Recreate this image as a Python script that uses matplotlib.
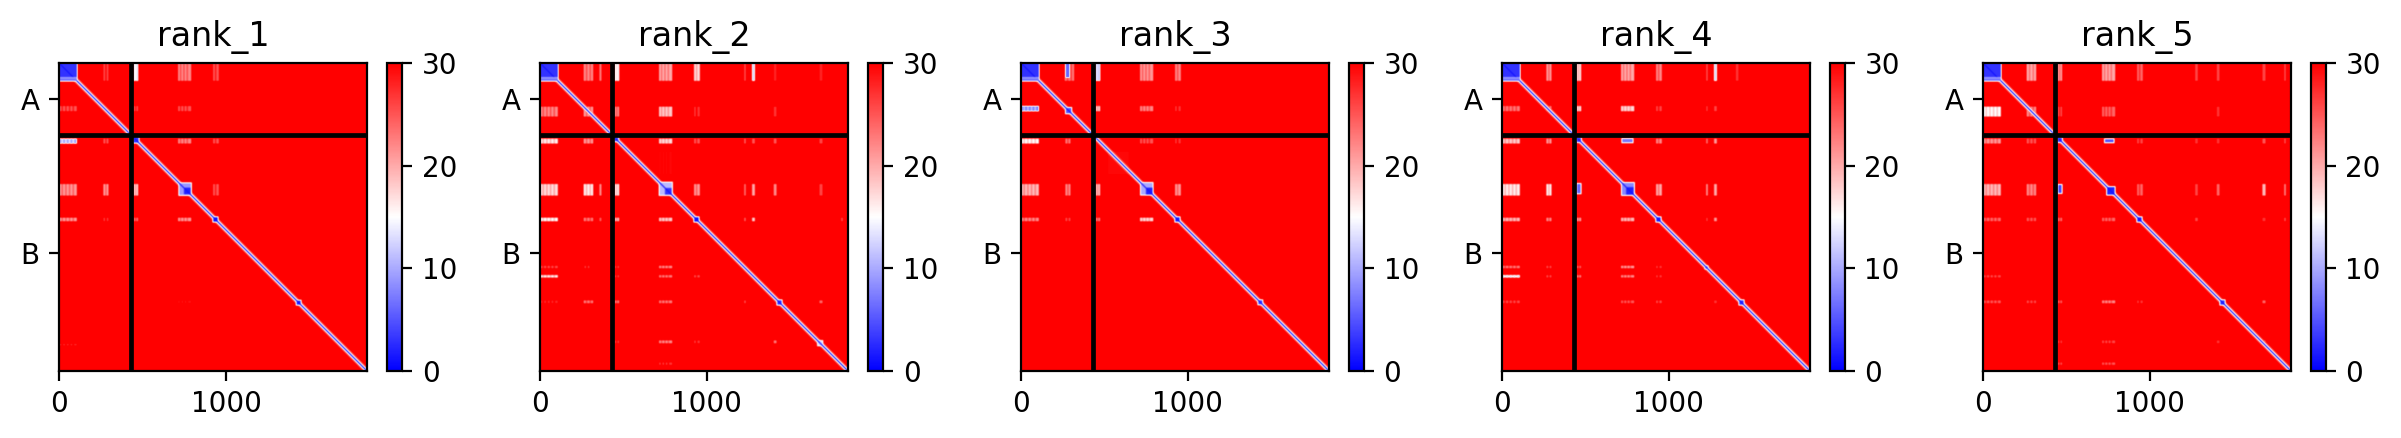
import numpy as np
import matplotlib
matplotlib.use("Agg")
import matplotlib.pyplot as plt

# residue counts
chain_lengths = [430, 1418]
chain_names = ["A", "B"]
rank_names = ["rank_1", "rank_2", "rank_3", "rank_4", "rank_5"]

# residue stripes of the recurring streaks
bands = {
    "n": [(2, 16), (24, 38), (46, 60), (68, 82), (90, 108)],
    "nr": [(0, 108)],
    "g2": [(266, 278), (286, 298)],
    "g2w": [(262, 276), (284, 298), (306, 320)],
    "g2b": [(356, 370)],
    "g2r": [(258, 290)],
    "g2x": [(262, 322)],
    "g3": [(448, 458), (464, 476)],
    "g3r": [(454, 484)],
    "g4": [(714, 726), (734, 746), (754, 766), (774, 794)],
    "g4r": [(726, 796)],
    "g5": [(924, 936), (944, 960)],
    "g5r": [(928, 950)],
    "c1": [(1224, 1236)],
    "c2": [(1272, 1290)],
    "r1": [(1216, 1232)],
    "r2": [(1272, 1288)],
    "r3": [(1424, 1442)],
    "c3": [(1402, 1420)],
    "c4": [(1676, 1696)],
    "r4": [(1664, 1682)],
    "c5": [(1806, 1818)],
    "r5": [(1796, 1812)],
    "rl": [(1684, 1696)],
    "f1": [(530, 670)],
    "f2": [(520, 650)],
}

# (row band, column band, PAE)
rank_1_patches = [
    ("nr", "g2", 25), ("nr", "g3", 12), ("nr", "g4", 21), ("nr", "g5", 24),
    ("g2r", "n", 24), ("g2r", "g3", 25), ("g2r", "g4", 24),
    ("g3r", "n", 9), ("g3r", "g2", 24), ("g3r", "g4", 21), ("g3r", "g5", 24),
    ("g4r", "n", 20), ("g4r", "g2", 20), ("g4r", "g3", 17), ("g4r", "g5", 24),
    ("g5r", "n", 20), ("g5r", "g2", 26), ("g5r", "g3", 23), ("g5r", "g4", 20),
    ("r3", "g4", 28), ("rl", "n", 27),
]
rank_2_patches = [
    ("nr", "g2w", 21), ("nr", "g2b", 22), ("nr", "g3", 13), ("nr", "g4", 19),
    ("nr", "g5", 16), ("nr", "c1", 25), ("nr", "c2", 12), ("nr", "c3", 27),
    ("nr", "c4", 27),
    ("g2x", "n", 21), ("g2x", "g2w", 20), ("g2x", "g3", 21), ("g2x", "g4", 17),
    ("g2x", "g5", 26), ("g2x", "c3", 26),
    ("f1", "g4", 28.5),
    ("g3r", "n", 15), ("g3r", "g2w", 20), ("g3r", "g4", 16), ("g3r", "g5", 24),
    ("g3r", "c1", 24), ("g3r", "c2", 24), ("g3r", "c3", 24), ("g3r", "c4", 25),
    ("g4r", "n", 16), ("g4r", "g2w", 15), ("g4r", "g2b", 21), ("g4r", "g3", 15),
    ("g4r", "g5", 20), ("g4r", "c1", 23), ("g4r", "c2", 19), ("g4r", "c3", 21),
    ("g4r", "c4", 25),
    ("g5r", "n", 14), ("g5r", "g2w", 22), ("g5r", "g2b", 24), ("g5r", "g3", 18),
    ("g5r", "g4", 17), ("g5r", "c1", 24), ("g5r", "c2", 17), ("g5r", "c5", 25),
    ("r1", "n", 25), ("r1", "g2", 26), ("r1", "g3", 26), ("r1", "g4", 21),
    ("r2", "n", 15), ("r2", "g3", 26), ("r2", "g4", 22), ("r2", "g5", 25),
    ("r3", "n", 27), ("r3", "g2w", 22), ("r3", "g3", 22), ("r3", "g4", 22),
    ("r3", "c1", 25), ("r3", "c4", 23),
    ("r4", "g3", 26), ("r4", "g4", 21), ("r4", "g5", 26), ("r4", "c3", 22),
    ("r4", "c4", 18), ("r5", "g4", 26),
]
rank_3_patches = [
    ("nr", "g2w", 22), ("nr", "g3", 10), ("nr", "g4", 20), ("nr", "g5", 21),
    ("g2r", "n", 7), ("g2r", "g3", 17), ("g2r", "g4", 21), ("g2r", "g5", 26),
    ("g3r", "n", 14), ("g3r", "g2", 22), ("g3r", "g4", 24), ("g3r", "g5", 26),
    ("g4r", "n", 18), ("g4r", "g2", 21), ("g4r", "g3", 18), ("g4r", "g5", 20),
    ("g5r", "n", 21), ("g5r", "g2", 25), ("g5r", "g3", 22), ("g5r", "g4", 16),
    ("f1", "f2", 28.5),
]
rank_4_patches = [
    ("nr", "g2", 20), ("nr", "g3", 16), ("nr", "g4", 19), ("nr", "g5", 21),
    ("nr", "c1", 25), ("nr", "c2", 12), ("nr", "c3", 26),
    ("g2r", "n", 22), ("g2r", "g2", 22), ("g2r", "g3", 16), ("g2r", "g4", 16),
    ("g2r", "g5", 25), ("g2r", "c1", 26), ("g2r", "c2", 25),
    ("g3r", "n", 17), ("g3r", "g2", 20), ("g3r", "g5", 21),
    ("g3r", "c1", 23), ("g3r", "c2", 20),
    ("g4r", "n", 15), ("g4r", "g2", 15), ("g4r", "g5", 19),
    ("g4r", "c1", 21), ("g4r", "c2", 19),
    ("g5r", "n", 18), ("g5r", "g2", 21), ("g5r", "g3", 20), ("g5r", "g4", 18),
    ("g5r", "c1", 26), ("g5r", "c2", 20),
    ("r1", "n", 22), ("r1", "g2", 25), ("r1", "g3", 24), ("r1", "g4", 20),
    ("r1", "g5", 26), ("r2", "n", 12), ("r2", "g2", 25), ("r2", "g3", 22),
    ("r2", "g4", 21), ("r2", "g5", 26),
    ("r3", "n", 25), ("r3", "g4", 24), ("r3", "g5", 25), ("r3", "c2", 26),
]
rank_5_patches = [
    ("nr", "g2w", 19), ("nr", "g3", 20), ("nr", "g4", 19), ("nr", "g5", 23),
    ("nr", "c2", 25), ("nr", "c3", 25), ("nr", "c4", 25), ("nr", "c5", 25),
    ("g2x", "n", 14), ("g2x", "g2w", 21), ("g2x", "g3", 25), ("g2x", "g4", 23),
    ("g2x", "c3", 26),
    ("g3r", "n", 20), ("g3r", "g2w", 24), ("g3r", "g5", 25), ("g3r", "c2", 26),
    ("g3r", "c3", 26), ("g3r", "c4", 24), ("g3r", "c5", 25),
    ("g4r", "n", 18), ("g4r", "g2w", 21), ("g4r", "g5", 23),
    ("g4r", "c2", 25), ("g4r", "c3", 23), ("g4r", "c4", 18), ("g4r", "c5", 22),
    ("g5r", "n", 23), ("g5r", "g2w", 24), ("g5r", "g3", 23), ("g5r", "g4", 23),
    ("g5r", "c2", 25), ("g5r", "c4", 26), ("g5r", "c5", 25),
    ("r2", "n", 25),
    ("r3", "n", 24), ("r3", "g2w", 25), ("r3", "g3", 24), ("r3", "g4", 21),
    ("r3", "g5", 26), ("r3", "c4", 23),
    ("r4", "g3", 26), ("r4", "g4", 25), ("r4", "c3", 26), ("r4", "c4", 24),
    ("r5", "g4", 24), ("r5", "g3", 25),
]
all_patches = [rank_1_patches, rank_2_patches, rank_3_patches,
               rank_4_patches, rank_5_patches]

# (row start, row end, col start, col end, PAE), solid blocks with a white rim
rank_1_blocks = [(445, 478, 445, 478, 3), (722, 792, 722, 792, 9),
                 (748, 788, 750, 790, 2), (926, 952, 926, 952, 1),
                 (1426, 1450, 1426, 1450, 2)]
rank_2_blocks = [(718, 792, 718, 792, 11), (750, 790, 750, 790, 3),
                 (446, 470, 446, 470, 4), (926, 952, 926, 952, 1),
                 (1424, 1450, 1424, 1450, 3), (1668, 1694, 1668, 1694, 13)]
rank_3_blocks = [(720, 790, 720, 790, 10), (748, 790, 750, 790, 2),
                 (926, 952, 926, 952, 2), (270, 302, 270, 302, 5),
                 (0, 88, 268, 292, 6), (1424, 1448, 1424, 1448, 4)]
rank_4_blocks = [(720, 792, 720, 792, 8), (745, 790, 745, 790, 2),
                 (448, 474, 448, 474, 3), (926, 952, 926, 952, 2),
                 (1424, 1450, 1424, 1450, 3), (456, 476, 722, 784, 7),
                 (726, 782, 450, 472, 6), (1220, 1234, 1220, 1234, 6)]
rank_5_blocks = [(745, 790, 745, 790, 2), (448, 474, 448, 474, 3),
                 (926, 952, 926, 952, 2), (1424, 1450, 1424, 1450, 3),
                 (458, 476, 732, 784, 5), (732, 780, 452, 472, 4)]
all_blocks = [rank_1_blocks, rank_2_blocks, rank_3_blocks,
              rank_4_blocks, rank_5_blocks]

# N-terminal domain, common to all ranks
n_block_pae = 3
n_block_low_pae = 7
# (half width in residues, PAE) of the band along the diagonal
diagonal_profile = [(22, 24), (11, 15), (7, 10), (4, 1)]
soften = 5  # half width of the smoothing window, residues

total = sum(chain_lengths)
boundary = chain_lengths[0]
dpi = 200
fig_w, fig_h = 2401, 438
panel_lefts = [59.3, 540.2, 1021.1, 1502, 1983]


def paint(matrix, r0, r1, c0, c1, value):
    matrix[r0:r1, c0:c1] = np.minimum(matrix[r0:r1, c0:c1], value)


def box_blur(matrix, axis):
    # running mean, edges padded with their own values
    pad = [(soften + 1, soften) if a == axis else (0, 0) for a in (0, 1)]
    padded = np.pad(matrix, pad, mode="edge")
    summed = np.cumsum(padded, axis=axis)
    hi = np.take(summed, range(2 * soften + 1, summed.shape[axis]), axis=axis)
    lo = np.take(summed, range(0, summed.shape[axis] - 2 * soften - 1), axis=axis)
    return (hi - lo) / (2 * soften + 1)


def build_matrix(patches, blocks):
    m = np.full((total, total), 31.0)
    rows, cols = np.indices((total, total))
    offset = np.abs(rows - cols)
    for half_width, value in diagonal_profile:
        m[offset <= half_width] = np.minimum(m[offset <= half_width], value)
    for row_band, col_band, value in patches:
        r0, r1 = bands[row_band][0][0], bands[row_band][-1][1]
        stripes = bands[col_band]
        # pale wash under the stripes, so the gaps are pink and not full red
        paint(m, r0, r1, stripes[0][0], stripes[-1][1], value + 5)
        for c0, c1 in stripes:
            paint(m, r0, r1, c0, c1, value + 1)
    paint(m, 0, 112, 0, 112, 15)
    paint(m, 0, 108, 0, 108, n_block_pae)
    m[86:90, 0:108] = 13
    m[90:108, 0:108] = n_block_low_pae
    for r0, r1, c0, c1, value in blocks:
        paint(m, r0 - 6, r1 + 6, c0 - 6, c1 + 6, 15)
        paint(m, r0, r1, c0, c1, value)
    return box_blur(box_blur(m, 0), 1)


fig = plt.figure(figsize=(fig_w / dpi, fig_h / dpi), dpi=dpi)
tick_labels = chain_names
tick_pos = [boundary / 2, boundary + chain_lengths[1] / 2]

for name, patches, blocks, left in zip(rank_names, all_patches, all_blocks, panel_lefts):
    ax = fig.add_axes([left / fig_w, 1 - 370.7 / fig_h, 308 / fig_w, 307.7 / fig_h])
    matrix = build_matrix(patches, blocks)
    im = ax.imshow(matrix, cmap="bwr", vmin=0, vmax=30, aspect="auto")
    ax.plot([0, total], [boundary, boundary], color="black", linewidth=1.7)
    ax.plot([boundary, boundary], [0, total], color="black", linewidth=1.7)
    ax.set_xlim(0, total)
    ax.set_ylim(total, 0)
    ax.set_xticks([0, 1000])
    ax.set_yticks(tick_pos)
    ax.set_yticklabels(tick_labels)
    ax.set_title(name)
    cax = fig.add_axes([(left + 327.7) / fig_w, 1 - 370.7 / fig_h,
                        15.3 / fig_w, 307.7 / fig_h])
    fig.colorbar(im, cax=cax)

fig.savefig("out.png", dpi=dpi)
plt.close(fig)
